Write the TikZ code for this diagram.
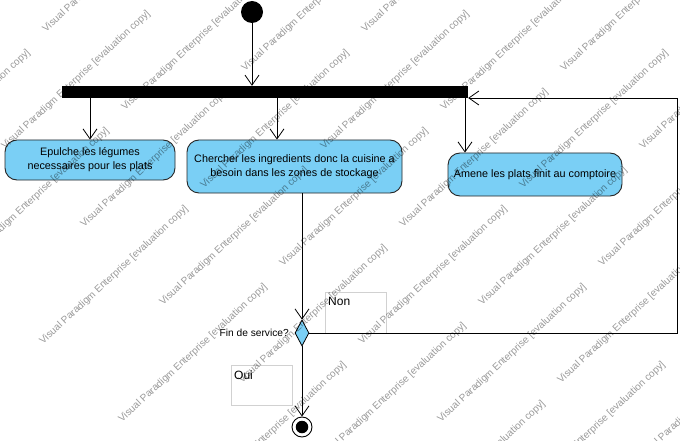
\documentclass[tikz,border=0pt]{standalone}
\usepackage{fontspec}
\setmainfont{Liberation Sans}
\usetikzlibrary{arrows.meta,shapes.geometric,calc}
\definecolor{actblue}{RGB}{122,207,245}
\begin{document}
\begin{tikzpicture}[x=1pt,y=-1pt,
  act/.style={draw=black!85, line width=0.9pt, fill=actblue, rounded corners=12pt,
    align=center, font=\fontsize{10.8}{14}\selectfont, inner sep=0pt},
  arr/.style={draw, line width=0.8pt, -{Straight Barb[length=10pt,width=14pt,line width=0.8pt]}},
  guard/.style={draw=black!18, line width=0.6pt, inner sep=0pt},
  guardtext/.style={font=\fontsize{12}{14}\selectfont, inner sep=0pt, anchor=north west},
  wm/.style={font=\fontsize{10}{12}\selectfont, text=black, text opacity=0.4,
    anchor=base west, rotate=43, inner sep=0pt}
]
\useasboundingbox (0,0) rectangle (680,441);
\fill[white] (0,0) rectangle (680,441);

% nodes
\node[circle, fill=black, minimum size=22pt, inner sep=0pt] (init) at (252,12) {};
\node[fill=black, minimum width=406pt, minimum height=12pt, inner sep=0pt] (bar) at (265,92) {};
\node[act, minimum width=170pt, minimum height=40pt] (epulche) at (90,160)
  {Epulche les légumes\\necessaires pour les plats};
\node[act, minimum width=215pt, minimum height=53pt] (chercher) at (294.5,166.5)
  {Chercher les ingredients donc la cuisine a\\besoin dans les zones de stockage};
\node[act, minimum width=174pt, minimum height=43pt] (amene) at (535,174.5)
  {Amene les plats finit au comptoire};
\node[diamond, draw, fill=actblue, line width=0.8pt, minimum width=14pt, minimum height=26pt,
  inner sep=0pt, aspect=0.54] (dec) at (302,333) {};
\node[circle, draw, line width=0.9pt, minimum size=20pt, inner sep=0pt] (final) at (302,427) {};
\node[circle, fill=black, minimum size=12.5pt, inner sep=0pt] (finalin) at (final.center) {};

\node[font=\fontsize{10.2}{12}\selectfont, anchor=east, inner sep=0pt] (q) at (289,333) {Fin de service?};
\node[guard, minimum width=61pt, minimum height=41pt] (nonbox) at (355.5,312.5) {};
\node[guardtext] (non) at (328,297) {Non};
\node[guard, minimum width=61pt, minimum height=40pt] (ouibox) at (261.5,385) {};
\node[guardtext] (oui) at (234,370.5) {Oui};

\coordinate (r1) at (677,333);
\coordinate (r2) at (677,98);

% connectors
\draw[arr] (init) -- (init |- bar.north);
\draw[arr] (epulche.north |- bar.south) -- (epulche.north);
\draw[arr] ([xshift=-17.5pt]chercher.north |- bar.south) -- ([xshift=-17.5pt]chercher.north);
\draw[arr] ([xshift=-70pt]amene.north |- bar.south) -- ([xshift=-70pt]amene.north);
\draw[arr] (dec.north |- chercher.south) -- (dec.north);
\draw[arr] (dec.east) -- (r1) -- (r2) -- (bar.east |- r2);
\draw[arr] (dec.south) -- (final.north);

% watermark (only copies that reach the picture)
\begin{scope}
\clip (0,0) rectangle (680,441);
\foreach \a in {-5,...,9}{
  \foreach \b in {-7,...,6}{
    \pgfmathsetmacro\px{43+120*\a+79*\b}
    \pgfmathsetmacro\py{345-39*\a+78*\b}
    \pgfmathtruncatemacro\ok{(\px>-140)&&(\px<675)&&(\py>8)&&(\py<570)&&(\px+\py>0)&&(\py-\px<430)&&(\px-\py<675)&&(\px+\py<1240)}
    \ifnum\ok=1
      \node[wm] (wm\a\b) at (\px,\py) {Visual Paradigm Enterprise [evaluation copy]};
    \fi
  }
}
\end{scope}
\end{tikzpicture}
\end{document}
